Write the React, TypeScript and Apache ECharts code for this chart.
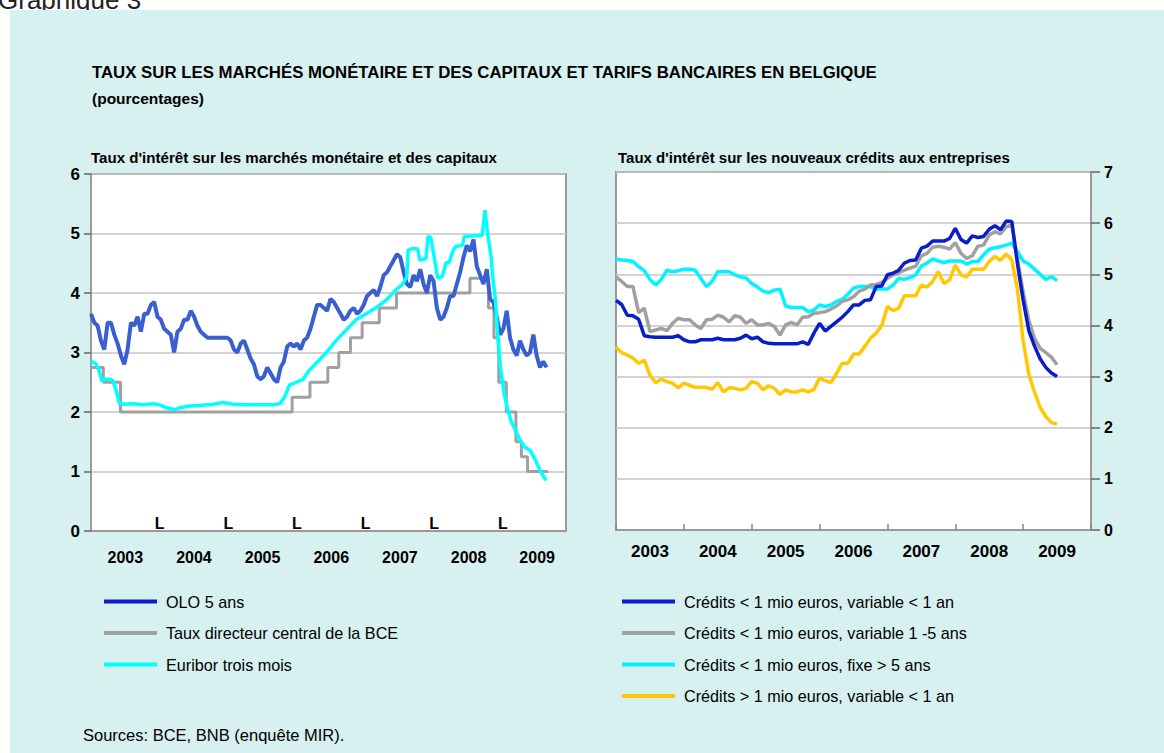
import React, { useEffect, useRef } from 'react';
import * as echarts from 'echarts';

const FONT = "'Liberation Sans', Arial, Helvetica, sans-serif";

// ---------- tick labels ----------
const yearLabels = ['2003', '2004', '2005', '2006', '2007', '2008', '2009'];
const yearBoundaryMarks = [2004, 2005, 2006, 2007, 2008, 2009];

// ---------- left chart: market rates (decimal years) ----------
// OLO 5 ans, observed every ~2.5 weeks from start of 2003
const oloStart = 2003.0;
const oloStep = 0.04845;
const oloValues = [
  3.65,
  3.5, 3.45, 3.2, 3.05, 3.5, 3.5, 3.3, 3.15, 2.95, 2.8,
  3.05, 3.5, 3.45, 3.6, 3.35, 3.65, 3.65, 3.8, 3.85, 3.6,
  3.55, 3.4, 3.35, 3.3, 3.0, 3.35, 3.4, 3.55, 3.55, 3.7,
  3.6, 3.45, 3.35, 3.3, 3.25, 3.25, 3.25, 3.25, 3.25, 3.25,
  3.25, 3.2, 3.05, 3.0, 3.15, 3.2, 3.05, 2.9, 2.8, 2.6,
  2.55, 2.6, 2.75, 2.65, 2.55, 2.5, 2.75, 2.85, 3.1, 3.15,
  3.1, 3.15, 3.05, 3.2, 3.25, 3.4, 3.6, 3.8, 3.8, 3.75,
  3.7, 3.9, 3.85, 3.75, 3.65, 3.55, 3.6, 3.7, 3.75, 3.65,
  3.7, 3.8, 3.95, 4.0, 4.05, 3.95, 4.1, 4.3, 4.35, 4.45,
  4.55, 4.65, 4.6, 4.35, 4.15, 4.1, 4.3, 4.2, 4.4, 4.15,
  4.0, 4.3, 4.2, 3.75, 3.55, 3.6, 3.75, 3.95, 3.95, 4.15,
  4.35, 4.6, 4.8, 4.7, 4.9, 4.45, 4.3, 4.15, 4.4, 3.9,
  3.85, 3.6, 3.3, 3.4, 3.7, 3.25, 3.05, 2.95, 3.2, 3.05,
  2.95, 3.0, 3.3, 2.95, 2.75, 2.85, 2.75,
];

// Taux directeur central de la BCE (date of change, new level)
const ecbSteps: [number, number][] = [
  [2003.0, 2.75], [2003.18, 2.5], [2003.43, 2.0], [2005.93, 2.25], [2006.19, 2.5],
  [2006.45, 2.75], [2006.61, 3.0], [2006.78, 3.25], [2006.95, 3.5], [2007.2, 3.75],
  [2007.45, 4.0], [2008.52, 4.25], [2008.79, 3.75], [2008.87, 3.25], [2008.94, 2.5],
  [2009.05, 2.0], [2009.19, 1.5], [2009.27, 1.25], [2009.36, 1.0], [2009.66, 1.0],
];

// Euribor trois mois
const euribor: [number, number][] = [
  [2003.0, 2.85], [2003.06, 2.82], [2003.11, 2.72], [2003.16, 2.52], [2003.2, 2.55],
  [2003.28, 2.55], [2003.32, 2.52], [2003.37, 2.35], [2003.41, 2.15], [2003.47, 2.13],
  [2003.62, 2.14], [2003.76, 2.12], [2003.91, 2.14], [2004.0, 2.12], [2004.1, 2.07],
  [2004.22, 2.04], [2004.29, 2.07], [2004.44, 2.1], [2004.58, 2.11], [2004.78, 2.13],
  [2004.92, 2.16], [2005.07, 2.13], [2005.26, 2.12], [2005.46, 2.12], [2005.65, 2.12],
  [2005.75, 2.14], [2005.82, 2.25], [2005.89, 2.45], [2005.99, 2.5], [2006.09, 2.55],
  [2006.18, 2.7], [2006.28, 2.82], [2006.43, 3.0], [2006.57, 3.2], [2006.72, 3.38],
  [2006.86, 3.55], [2007.01, 3.65], [2007.15, 3.75], [2007.3, 3.88], [2007.44, 4.05],
  [2007.54, 4.15], [2007.6, 4.27], [2007.62, 4.72], [2007.69, 4.75], [2007.76, 4.74],
  [2007.79, 4.55], [2007.88, 4.58], [2007.91, 4.95], [2007.95, 4.93], [2008.0, 4.6],
  [2008.05, 4.25], [2008.12, 4.28], [2008.17, 4.5], [2008.22, 4.52], [2008.27, 4.7],
  [2008.31, 4.78], [2008.41, 4.8], [2008.44, 4.95], [2008.7, 4.97], [2008.74, 5.39],
  [2008.78, 4.98], [2008.83, 4.6], [2008.85, 4.3], [2008.89, 3.9], [2008.93, 3.2],
  [2008.97, 2.7], [2009.02, 2.3], [2009.07, 2.05], [2009.12, 1.85], [2009.18, 1.7],
  [2009.24, 1.55], [2009.31, 1.42], [2009.4, 1.35], [2009.47, 1.2], [2009.55, 1.0],
  [2009.63, 0.85],
];

// ---------- right chart: monthly bank rates, Jan 2003 - Jul 2009 ----------
const firstMonth = '2003-01';
const creditVarSmall = [
  4.49, 4.41, 4.2, 4.19, 4.12, 3.8, 3.78, 3.77, 3.77, 3.77, 3.77, 3.8,
  3.72, 3.68, 3.68, 3.72, 3.72, 3.72, 3.75, 3.72, 3.72, 3.72, 3.75, 3.81,
  3.74, 3.77, 3.68, 3.65, 3.64, 3.64, 3.64, 3.64, 3.64, 3.68, 3.63, 3.85,
  4.04, 3.89, 3.98, 4.07, 4.16, 4.27, 4.4, 4.4, 4.49, 4.5, 4.76, 4.77,
  4.99, 5.02, 5.08, 5.22, 5.27, 5.28, 5.51, 5.55, 5.65, 5.65, 5.65, 5.7,
  5.9, 5.68, 5.61, 5.75, 5.72, 5.74, 5.88, 5.95, 5.87, 6.04, 6.03, 5.2,
  4.5, 3.9, 3.6, 3.35, 3.18, 3.07, 3.0,
];
const creditVar15 = [
  4.95, 4.86, 4.76, 4.76, 4.25, 4.34, 3.88, 3.91, 3.94, 3.9, 4.04, 4.14,
  4.11, 4.11, 4.01, 3.94, 4.11, 4.12, 4.2, 4.16, 4.07, 4.19, 4.16, 4.04,
  4.11, 4.01, 4.01, 4.04, 3.98, 3.81, 4.01, 4.06, 4.01, 4.16, 4.17, 4.24,
  4.25, 4.27, 4.32, 4.38, 4.47, 4.5, 4.56, 4.67, 4.71, 4.79, 4.8, 4.84,
  4.92, 4.99, 5.03, 5.08, 5.12, 5.16, 5.36, 5.41, 5.53, 5.55, 5.53, 5.49,
  5.62, 5.41, 5.31, 5.36, 5.55, 5.57, 5.77, 5.83, 5.79, 5.93, 5.96, 5.3,
  4.65, 4.1, 3.75, 3.55, 3.47, 3.38, 3.23,
];
const creditFixed5 = [
  5.3, 5.28, 5.27, 5.25, 5.15, 5.07, 4.9, 4.79, 4.9, 5.08, 5.05, 5.07,
  5.1, 5.1, 5.08, 4.92, 4.76, 4.86, 5.05, 5.05, 5.05, 4.99, 4.95, 4.93,
  4.82, 4.75, 4.67, 4.64, 4.69, 4.71, 4.38, 4.35, 4.35, 4.35, 4.27, 4.3,
  4.4, 4.37, 4.4, 4.47, 4.51, 4.61, 4.73, 4.76, 4.76, 4.76, 4.71, 4.71,
  4.71, 4.79, 4.92, 4.9, 4.94, 4.99, 5.16, 5.22, 5.3, 5.26, 5.23, 5.26,
  5.26, 5.26, 5.2, 5.25, 5.25, 5.38, 5.49, 5.52, 5.54, 5.57, 5.61, 5.44,
  5.26, 5.2, 5.1, 5.0, 4.9, 4.95, 4.88,
];
const creditLargeVar = [
  3.57, 3.47, 3.42, 3.36, 3.26, 3.32, 3.03, 2.88, 2.95, 2.9, 2.87, 2.78,
  2.87, 2.83, 2.79, 2.79, 2.79, 2.75, 2.88, 2.7, 2.78, 2.77, 2.74, 2.77,
  2.9, 2.87, 2.74, 2.82, 2.77, 2.65, 2.74, 2.7, 2.7, 2.74, 2.7, 2.75,
  2.97, 2.92, 2.88, 3.06, 3.26, 3.26, 3.44, 3.44, 3.59, 3.75, 3.85, 4.0,
  4.37, 4.29, 4.34, 4.58, 4.58, 4.58, 4.79, 4.75, 4.86, 5.05, 4.82, 4.89,
  5.18, 4.99, 4.95, 5.1, 5.1, 5.1, 5.25, 5.35, 5.27, 5.4, 5.28, 4.7,
  3.7, 3.05, 2.7, 2.4, 2.22, 2.1, 2.07,
];

const leftNames = ['OLO 5 ans', 'Taux directeur central de la BCE', 'Euribor trois mois'];
const rightNames = [
  'Crédits < 1 mio euros, variable < 1 an',
  'Crédits < 1 mio euros, variable 1 -5 ans',
  'Crédits < 1 mio euros, fixe > 5 ans',
  'Crédits > 1 mio euros, variable < 1 an',
];

function monthToYear(i: number): number {
  const [y, m] = firstMonth.split('-').map(Number);
  return y + (m - 1 + i) / 12;
}
const monthly = (vals: number[]) => vals.map((v, i) => [monthToYear(i), v]);
const oloData = oloValues.map((v, i) => [oloStart + i * oloStep, v]);

const isHalf = (v: number) => Math.abs(v - Math.floor(v) - 0.5) < 1e-6;
const yearFmt = (v: number) => {
  if (!isHalf(v)) return '';
  const s = String(Math.floor(v));
  return yearLabels.indexOf(s) >= 0 ? s : '';
};
const markFmt = (v: number) =>
  yearBoundaryMarks.some((y) => Math.abs(y - v) < 1e-6) ? 'L' : '';

export default function App() {
  const ref = useRef<HTMLDivElement>(null);

  useEffect(() => {
    if (!ref.current) return;
    const chart = echarts.init(ref.current, undefined, { renderer: 'svg' });

    const axisLabelBase = { fontFamily: FONT, fontWeight: 'bold' as const, color: '#000' };
    const gridLine = { show: true, lineStyle: { color: '#c4c4c4', width: 1.5 } };
    const legendBase = {
      orient: 'vertical', itemWidth: 53, itemHeight: 4, itemGap: 12.5, padding: 0,
      icon: 'rect', selectedMode: false,
      textStyle: { fontFamily: FONT, fontSize: 16.2, color: '#000', lineHeight: 16, padding: [3, 0, 0, 4] },
    };

    const option: any = {
      animation: false,
      backgroundColor: '#ffffff',
      textStyle: { fontFamily: FONT },
      graphic: [
        {
          type: 'text', z: -20, x: -2, y: 13,
          style: { text: 'Graphique 3', font: `26px ${FONT}`, fill: '#222', verticalAlign: 'bottom' },
        },
        {
          type: 'rect', z: -10,
          shape: { x: 10, y: 10, width: 1154, height: 743 },
          style: { fill: '#d7f0f0' },
        },
        {
          type: 'text', z: 10, x: 92, y: 72,
          style: {
            text: 'TAUX SUR LES MARCHÉS MONÉTAIRE ET DES CAPITAUX ET TARIFS BANCAIRES EN BELGIQUE',
            font: `bold 16.8px ${FONT}`, fill: '#000', verticalAlign: 'middle',
          },
        },
        {
          type: 'text', z: 10, x: 92, y: 98,
          style: { text: '(pourcentages)', font: `bold 15.5px ${FONT}`, fill: '#000', verticalAlign: 'middle' },
        },
        {
          type: 'text', z: 10, x: 91, y: 157,
          style: {
            text: "Taux d'intérêt sur les marchés monétaire et des capitaux",
            font: `bold 15.1px ${FONT}`, fill: '#000', verticalAlign: 'middle',
          },
        },
        {
          type: 'text', z: 10, x: 618, y: 157,
          style: {
            text: "Taux d'intérêt sur les nouveaux crédits aux entreprises",
            font: `bold 15px ${FONT}`, fill: '#000', verticalAlign: 'middle',
          },
        },
        {
          type: 'text', z: 10, x: 83, y: 735,
          style: { text: 'Sources: BCE, BNB (enquête MIR).', font: `16.5px ${FONT}`, fill: '#000', verticalAlign: 'middle' },
        },
      ],
      grid: [
        { left: 91, top: 174, width: 475, height: 357, show: true, backgroundColor: '#fff', borderColor: '#9a9a9a', borderWidth: 2 },
        { left: 616, top: 172, width: 475, height: 358, show: true, backgroundColor: '#fff', borderColor: '#9a9a9a', borderWidth: 2 },
      ],
      xAxis: [
        {
          type: 'value', gridIndex: 0, position: 'bottom', min: 2003, max: 2009.92, interval: 0.5,
          axisLine: { show: true, lineStyle: { color: '#9a9a9a', width: 2 } },
          axisTick: { show: false }, splitLine: { show: false },
          axisLabel: { ...axisLabelBase, fontSize: 16, margin: 18, formatter: yearFmt, hideOverlap: false },
        },
        {
          type: 'value', gridIndex: 0, position: 'bottom', min: 2003, max: 2009.92, interval: 0.5,
          axisLine: { show: false }, axisTick: { show: false }, splitLine: { show: false },
          axisLabel: { ...axisLabelBase, fontSize: 16, inside: true, margin: 0, align: 'center', formatter: markFmt, hideOverlap: false },
        },
        {
          type: 'value', gridIndex: 1, position: 'bottom', min: 2003, max: 2010, interval: 0.5,
          axisLine: { show: true, lineStyle: { color: '#9a9a9a', width: 2 } },
          axisTick: { show: false }, splitLine: { show: false },
          axisLabel: { ...axisLabelBase, fontSize: 17, margin: 13, formatter: yearFmt, hideOverlap: false },
        },
        {
          type: 'value', gridIndex: 1, position: 'bottom', min: 2003, max: 2010, interval: 1,
          axisLine: { show: false }, splitLine: { show: false }, axisLabel: { show: false },
          axisTick: { show: true, inside: true, length: 6, lineStyle: { color: '#888', width: 1.5 } },
        },
      ],
      yAxis: [
        {
          type: 'value', gridIndex: 0, position: 'left', min: 0, max: 6, interval: 1,
          axisLine: { show: true, lineStyle: { color: '#9a9a9a', width: 2 } },
          axisTick: { show: true, length: 7, lineStyle: { color: '#666', width: 1.5 } },
          axisLabel: { ...axisLabelBase, fontSize: 17, margin: 11 },
          splitLine: gridLine,
        },
        {
          type: 'value', gridIndex: 1, position: 'right', min: 0, max: 7, interval: 1,
          axisLine: { show: true, lineStyle: { color: '#9a9a9a', width: 2 } },
          axisTick: { show: true, length: 9, lineStyle: { color: '#666', width: 1.5 } },
          axisLabel: { ...axisLabelBase, fontSize: 16, margin: 13 },
          splitLine: gridLine,
        },
      ],
      legend: [
        {
          ...legendBase, left: 104, top: 592,
          data: [
            { name: leftNames[0], itemStyle: { color: '#0a1ec8' } },
            { name: leftNames[1] },
            { name: leftNames[2] },
          ],
        },
        {
          ...legendBase, left: 622, top: 592,
          data: rightNames.map((n) => ({ name: n })),
        },
      ],
      series: [
        {
          name: leftNames[1], type: 'line', xAxisIndex: 0, yAxisIndex: 0, step: 'end',
          data: ecbSteps, showSymbol: false, symbol: 'none',
          lineStyle: { color: '#a0a0a0', width: 3 }, itemStyle: { color: '#a0a0a0' },
        },
        {
          name: leftNames[0], type: 'line', xAxisIndex: 0, yAxisIndex: 0,
          data: oloData, showSymbol: false, symbol: 'none',
          lineStyle: { color: '#3a5fd0', width: 4 }, itemStyle: { color: '#3a5fd0' },
        },
        {
          name: leftNames[2], type: 'line', xAxisIndex: 0, yAxisIndex: 0,
          data: euribor, showSymbol: false, symbol: 'none',
          lineStyle: { color: '#00ffff', width: 3.5 }, itemStyle: { color: '#00ffff' },
        },
        {
          name: rightNames[2], type: 'line', xAxisIndex: 2, yAxisIndex: 1,
          data: monthly(creditFixed5), showSymbol: false, symbol: 'none',
          lineStyle: { color: '#00f4ff', width: 3.5 }, itemStyle: { color: '#00f4ff' },
        },
        {
          name: rightNames[3], type: 'line', xAxisIndex: 2, yAxisIndex: 1,
          data: monthly(creditLargeVar), showSymbol: false, symbol: 'none',
          lineStyle: { color: '#ffc800', width: 3.5 }, itemStyle: { color: '#ffc800' },
        },
        {
          name: rightNames[1], type: 'line', xAxisIndex: 2, yAxisIndex: 1,
          data: monthly(creditVar15), showSymbol: false, symbol: 'none',
          lineStyle: { color: '#a0a0a0', width: 3.5 }, itemStyle: { color: '#a0a0a0' },
        },
        {
          name: rightNames[0], type: 'line', xAxisIndex: 2, yAxisIndex: 1,
          data: monthly(creditVarSmall), showSymbol: false, symbol: 'none',
          lineStyle: { color: '#0a1ec8', width: 3.5 }, itemStyle: { color: '#0a1ec8' },
        },
      ],
    };

    chart.setOption(option);
    return () => chart.dispose();
  }, []);

  return (
    <div
      ref={ref}
      style={{ position: 'absolute', left: 0, top: 0, width: 1164, height: 753 }}
    />
  );
}
